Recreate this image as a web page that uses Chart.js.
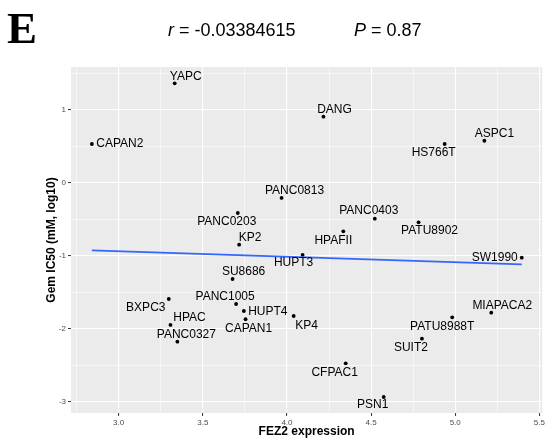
<!DOCTYPE html>
<html>
<head>
<meta charset="utf-8">
<script src="https://cdn.jsdelivr.net/npm/chart.js@4"></script>
<style>
  body { margin: 0; background: #fff; }
  canvas { display: block; }
</style>
</head>
<body>
<canvas id="graficoFez2" width="547" height="441"></canvas>
<script>
// cell lines, FEZ2 expression (x) and Gem IC50 log10 (y)
const cellLines = ['YAPC', 'CAPAN2', 'DANG', 'HS766T', 'ASPC1', 'PANC0813', 'PANC0203', 'PANC0403',
  'PATU8902', 'HPAFII', 'KP2', 'HUPT3', 'SW1990', 'SU8686', 'BXPC3', 'PANC1005', 'HUPT4', 'CAPAN1',
  'HPAC', 'PANC0327', 'KP4', 'MIAPACA2', 'PATU8988T', 'SUIT2', 'CFPAC1', 'PSN1'];
const fez2 = [3.333, 2.841, 4.217, 4.937, 5.173, 3.968, 3.708, 4.522,
  4.782, 4.335, 3.716, 4.093, 5.395, 3.677, 3.298, 3.698, 3.744, 3.754,
  3.308, 3.349, 4.040, 5.214, 4.982, 4.802, 4.349, 4.575];
const gemIC50 = [1.362, 0.530, 0.904, 0.530, 0.575, -0.209, -0.415, -0.493,
  -0.543, -0.666, -0.849, -0.990, -1.027, -1.319, -1.593, -1.662, -1.758, -1.871,
  -1.949, -2.178, -1.826, -1.781, -1.844, -2.137, -2.474, -2.936];

// linear fit (geom_smooth lm) end points
const fitX = [2.841, 5.395];
const fitY = [-0.926, -1.118];

const xTicks = [3.0, 3.5, 4.0, 4.5, 5.0, 5.5];
const xMinor = [2.75, 3.25, 3.75, 4.25, 4.75, 5.25];
const yTicks = [-3, -2, -1, 0, 1];
const yMinor = [-2.5, -1.5, -0.5, 0.5, 1.5];

// label placement (pixels from the dot, label centre)
const labelOffsets = {
  YAPC: [11, -7], CAPAN2: [28, 0], DANG: [11, -7], HS766T: [-11, 9], ASPC1: [10, -7],
  PANC0813: [13, -7], PANC0203: [-11, 9], PANC0403: [-6, -8], PATU8902: [11, 8], HPAFII: [-10, 9],
  KP2: [11, -7], HUPT3: [-9, 8], SW1990: [-27, 0], SU8686: [11, -7], BXPC3: [-23, 9],
  PANC1005: [-11, -7], HUPT4: [24, 1], CAPAN1: [3, 9], HPAC: [19, -7], PANC0327: [9, -7],
  KP4: [13, 10], MIAPACA2: [11, -7], PATU8988T: [-10, 9], SUIT2: [-11, 9], CFPAC1: [-11, 9],
  PSN1: [-11, 8]
};

const fonte = '"Liberation Sans", Arial, sans-serif';
const pontos = fez2.map((x, i) => ({ x: x, y: gemIC50[i] }));
const linha = fitX.map((x, i) => ({ x: x, y: fitY[i] }));

const fundoPainel = {
  id: 'fundoPainel',
  beforeDraw(chart) {
    const { ctx, chartArea: a } = chart;
    ctx.save();
    ctx.fillStyle = '#EBEBEB';
    ctx.fillRect(a.left, a.top, a.right - a.left, a.bottom - a.top);
    ctx.restore();
  }
};

const rotulos = {
  id: 'rotulos',
  afterDatasetsDraw(chart) {
    const ctx = chart.ctx;
    const xs = chart.scales.x, ys = chart.scales.y;
    ctx.save();
    ctx.font = '12px ' + fonte;
    ctx.fillStyle = '#000';
    ctx.textAlign = 'center';
    ctx.textBaseline = 'middle';
    cellLines.forEach((nome, i) => {
      const off = labelOffsets[nome] || [0, -8];
      ctx.fillText(nome, xs.getPixelForValue(fez2[i]) + off[0], ys.getPixelForValue(gemIC50[i]) + off[1]);
    });
    ctx.restore();
  }
};

const textos = {
  id: 'textos',
  afterDraw(chart) {
    const ctx = chart.ctx;
    const a = chart.chartArea;
    ctx.save();
    // painel letter
    ctx.fillStyle = '#000';
    ctx.font = 'bold 45px "Liberation Serif", "Times New Roman", serif';
    ctx.textBaseline = 'alphabetic';
    ctx.textAlign = 'left';
    ctx.fillText('E', 7, 43);

    // r and P
    ctx.font = 'italic 18px ' + fonte;
    ctx.fillText('r', 168, 36);
    let w = ctx.measureText('r').width;
    ctx.font = '18px ' + fonte;
    ctx.fillText(' = -0.03384615', 168 + w, 36);
    ctx.font = 'italic 18px ' + fonte;
    ctx.fillText('P', 354, 36);
    w = ctx.measureText('P').width;
    ctx.font = '18px ' + fonte;
    ctx.fillText(' = 0.87', 354 + w, 36);

    // axis titles
    ctx.font = 'bold 12px ' + fonte;
    ctx.textAlign = 'center';
    ctx.textBaseline = 'middle';
    ctx.fillText('FEZ2 expression', (a.left + a.right) / 2, 432);
    ctx.translate(52, (a.top + a.bottom) / 2);
    ctx.rotate(-Math.PI / 2);
    ctx.fillText('Gem IC50 (mM, log10)', 0, 0);
    ctx.restore();
  }
};

function gradeX(v) { return xTicks.includes(v); }
function gradeY(v) { return yTicks.includes(v); }

new Chart(document.getElementById('graficoFez2').getContext('2d'), {
  data: {
    datasets: [{
      type: 'line',
      data: linha,
      borderColor: '#3366FF',
      borderWidth: 1.8,
      pointRadius: 0,
      fill: false
    }, {
      type: 'scatter',
      data: pontos,
      backgroundColor: '#000',
      borderWidth: 0,
      pointRadius: 1.9
    }]
  },
  options: {
    responsive: false,
    animation: false,
    devicePixelRatio: 1,
    layout: { padding: { top: 67, right: 4.5, left: 0, bottom: 0 } },
    plugins: {
      legend: { display: false },
      tooltip: { enabled: false }
    },
    scales: {
      x: {
        type: 'linear',
        min: 2.717,
        max: 5.517,
        afterBuildTicks: s => { s.ticks = xMinor.concat(xTicks).sort((a, b) => a - b).map(v => ({ value: v })); },
        afterFit: s => { s.height = 28; },
        border: { display: false },
        grid: {
          color: '#FFFFFF',
          lineWidth: c => (c.tick && gradeX(c.tick.value)) ? 1.1 : 0.55,
          tickColor: c => (c.tick && gradeX(c.tick.value)) ? '#333333' : 'rgba(0,0,0,0)',
          tickLength: 3,
          tickWidth: 1
        },
        ticks: {
          autoSkip: false,
          maxRotation: 0,
          padding: 2,
          color: '#4D4D4D',
          font: { size: 8, family: fonte },
          callback: v => gradeX(v) ? v.toFixed(1) : ''
        }
      },
      y: {
        type: 'linear',
        min: -3.155,
        max: 1.585,
        afterBuildTicks: s => { s.ticks = yMinor.concat(yTicks).sort((a, b) => a - b).map(v => ({ value: v })); },
        afterFit: s => { s.width = 71; },
        border: { display: false },
        grid: {
          color: '#FFFFFF',
          lineWidth: c => (c.tick && gradeY(c.tick.value)) ? 1.1 : 0.55,
          tickColor: c => (c.tick && gradeY(c.tick.value)) ? '#333333' : 'rgba(0,0,0,0)',
          tickLength: 3,
          tickWidth: 1
        },
        ticks: {
          autoSkip: false,
          padding: 2,
          color: '#4D4D4D',
          font: { size: 8, family: fonte },
          callback: v => gradeY(v) ? String(v) : ''
        }
      }
    }
  },
  plugins: [fundoPainel, rotulos, textos]
});
</script>
</body>
</html>
